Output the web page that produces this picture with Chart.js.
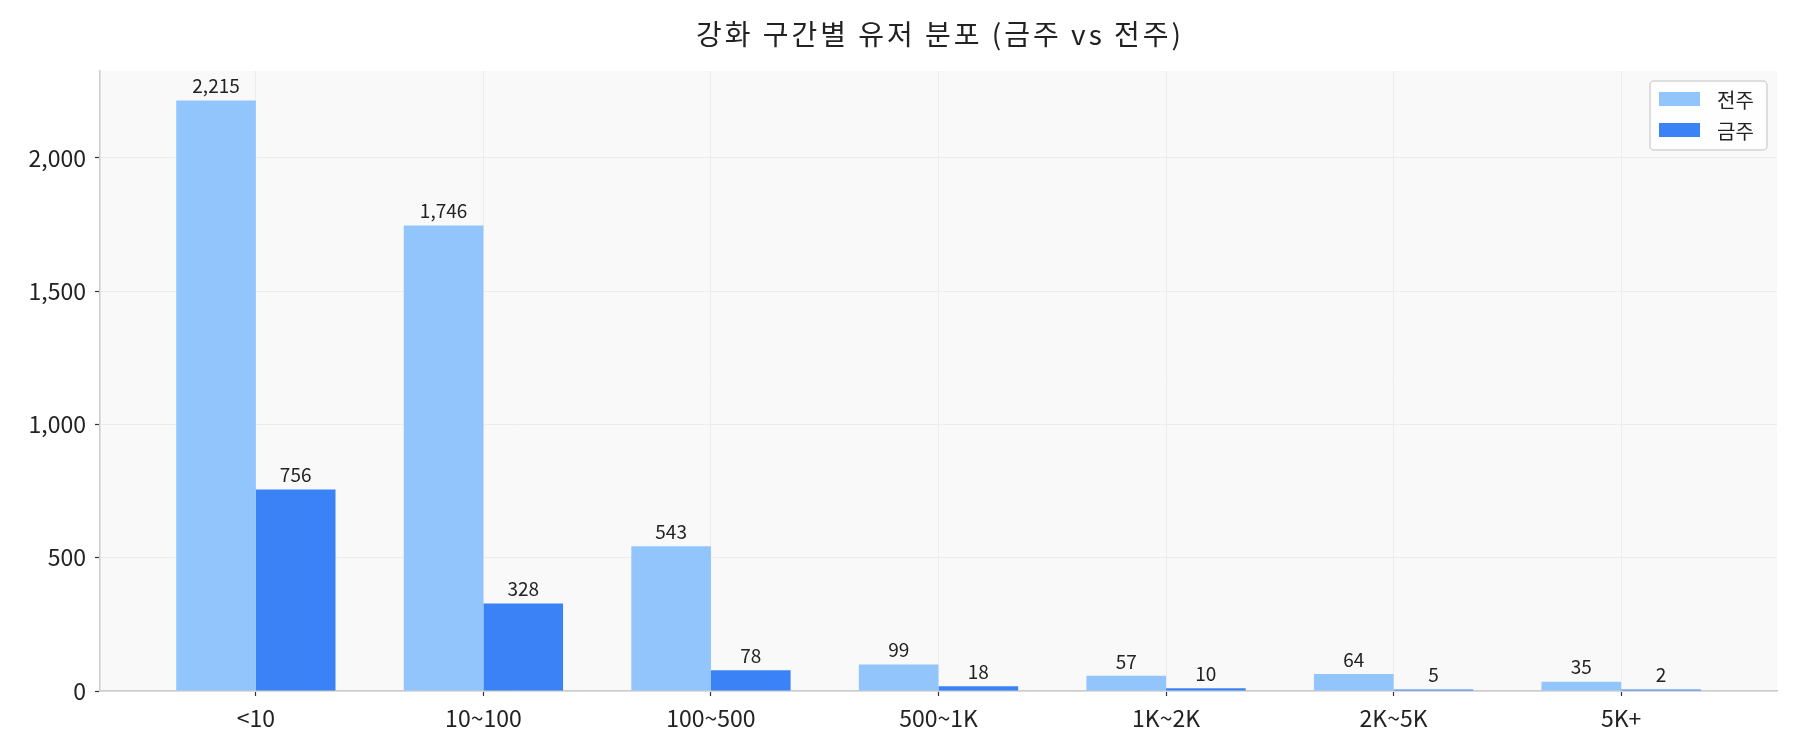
<!DOCTYPE html>
<html>
<head>
    <meta charset="utf-8">
    <title>강화 구간별 유저 분포</title>
    <script src="https://cdn.jsdelivr.net/npm/chart.js"></script>
    <style>
        body { margin: 0; background: #fff; }
    </style>
</head>
<body>
    <canvas id="chart" width="1800" height="750"></canvas>
    <script>
        // chart values
        const categories = ['<10', '10~100', '100~500', '500~1K', '1K~2K', '2K~5K', '5K+'];
        const lastWeek = [2215, 1746, 543, 99, 57, 64, 35];
        const thisWeek = [756, 328, 78, 18, 10, 5, 2];
        const yTicks = [0, 500, 1000, 1500, 2000];
        const seriesNames = ['전주', '금주'];
        const chartTitle = '강화 구간별 유저 분포 (금주 vs 전주)';

        const FONT = "'Noto Sans CJK KR', 'Noto Sans', sans-serif";
        const TEXT = '#222';

        // plot background
        const plotBg = {
            id: 'plotBg',
            beforeDraw(chart) {
                const a = chart.chartArea, ctx = chart.ctx;
                ctx.save();
                ctx.fillStyle = '#f9f9f9';
                ctx.fillRect(a.left, a.top, a.right - a.left, a.bottom - a.top);
                ctx.restore();
            }
        };

        // title centred over the plot area, not the canvas
        const areaTitle = {
            id: 'areaTitle',
            afterDraw(chart) {
                const a = chart.chartArea, ctx = chart.ctx;
                ctx.save();
                ctx.font = '28px ' + FONT;
                ctx.letterSpacing = '3px';
                ctx.fillStyle = TEXT;
                ctx.textAlign = 'center';
                ctx.textBaseline = 'middle';
                ctx.fillText(chartTitle, (a.left + a.right) / 2 + 1.5, 34);
                ctx.restore();
            }
        };

        // numbers above bars
        const barValues = {
            id: 'barValues',
            afterDatasetsDraw(chart) {
                const ctx = chart.ctx;
                ctx.save();
                ctx.font = '19px ' + FONT;
                ctx.fillStyle = TEXT;
                ctx.textAlign = 'center';
                ctx.textBaseline = 'bottom';
                chart.data.datasets.forEach((ds, i) => {
                    chart.getDatasetMeta(i).data.forEach((bar, j) => {
                        ctx.fillText(ds.data[j].y.toLocaleString('en-US'), bar.x, bar.y - 5);
                    });
                });
                ctx.restore();
            }
        };

        // framed legend in the upper right corner
        const frameLegend = {
            id: 'frameLegend',
            afterDraw(chart) {
                const a = chart.chartArea, ctx = chart.ctx;
                const x = a.right - 127, y = a.top + 10, w = 117, h = 69;
                ctx.save();
                ctx.fillStyle = 'rgba(255,255,255,0.8)';
                ctx.strokeStyle = '#d4d4d4';
                ctx.lineWidth = 1.5;
                ctx.beginPath();
                ctx.roundRect(x, y, w, h, 4);
                ctx.fill();
                ctx.stroke();
                ctx.font = '20px ' + FONT;
                ctx.textBaseline = 'middle';
                ctx.textAlign = 'left';
                chart.data.datasets.forEach((ds, i) => {
                    const cy = y + 18 + i * 31;
                    ctx.fillStyle = ds.backgroundColor;
                    ctx.fillRect(x + 9, cy - 7, 41, 14);
                    ctx.fillStyle = TEXT;
                    ctx.fillText(ds.label, x + 67, cy + 1);
                });
                ctx.restore();
            }
        };

        const toPoints = arr => arr.map((v, i) => ({ x: i, y: v }));
        const half = 0.35, n = categories.length;
        const xPad = (n - 1 + 2 * half) * 0.05;

        new Chart(document.getElementById('chart'), {
            type: 'bar',
            data: {
                datasets: [
                    { label: seriesNames[0], data: toPoints(lastWeek), backgroundColor: '#93c5fd' },
                    { label: seriesNames[1], data: toPoints(thisWeek), backgroundColor: '#3b82f6' }
                ]
            },
            options: {
                responsive: false,
                animation: false,
                devicePixelRatio: 1,
                layout: { padding: { left: 0, right: 23, top: 71, bottom: 0 } },
                datasets: {
                    bar: { categoryPercentage: 0.7, barPercentage: 1.0, minBarLength: 1.5 }
                },
                plugins: {
                    legend: { display: false },
                    tooltip: { enabled: false },
                    title: { display: false }
                },
                scales: {
                    x: {
                        type: 'linear',
                        offset: false,
                        min: -half - xPad,
                        max: n - 1 + half + xPad,
                        afterBuildTicks: s => { s.ticks = categories.map((c, i) => ({ value: i })); },
                        afterFit: s => { s.height = 59; },
                        grid: { offset: false, color: '#ececec', lineWidth: 1, tickColor: '#333', tickLength: 5, tickWidth: 1.2 },
                        border: { color: '#cccccc', width: 1.5 },
                        ticks: {
                            color: TEXT,
                            padding: 8,
                            maxRotation: 0,
                            autoSkip: false,
                            font: { family: FONT, size: 23 },
                            callback: v => categories[v]
                        }
                    },
                    y: {
                        min: 0,
                        max: Math.max(...lastWeek, ...thisWeek) * 1.05,
                        afterBuildTicks: s => { s.ticks = yTicks.map(v => ({ value: v })); },
                        afterFit: s => { s.width = 100; },
                        grid: { color: '#ececec', lineWidth: 1, tickColor: '#333', tickLength: 5, tickWidth: 1.2 },
                        border: { color: '#cccccc', width: 1.5 },
                        ticks: {
                            color: TEXT,
                            padding: 9,
                            font: { family: FONT, size: 23 },
                            callback: v => v.toLocaleString('en-US')
                        }
                    }
                }
            },
            plugins: [plotBg, areaTitle, barValues, frameLegend]
        });
    </script>
</body>
</html>
